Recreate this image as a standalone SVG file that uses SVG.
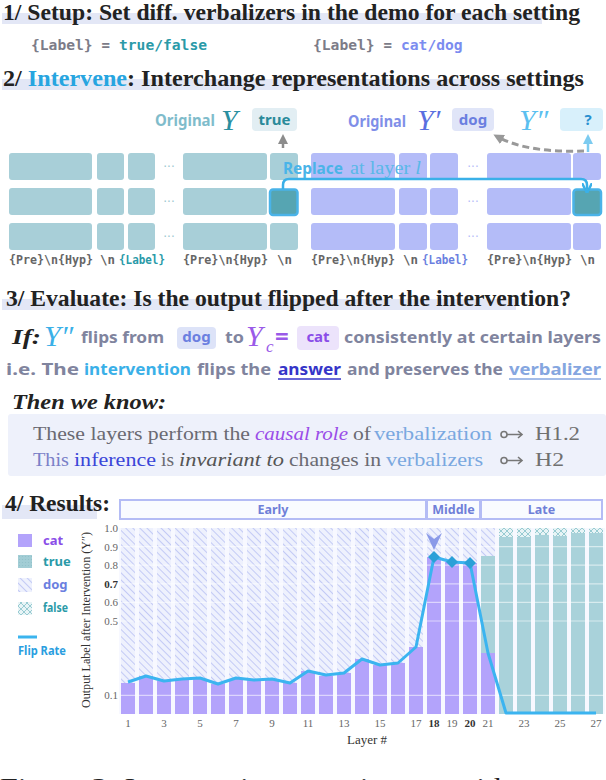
<svg xmlns="http://www.w3.org/2000/svg" width="606" height="780" viewBox="0 0 606 780">
<style>
.hd{font-family:"Liberation Serif",serif;font-weight:bold;font-size:24px;fill:#222}
.bar{fill:#e3e7f6}
.mono{font-family:"DejaVu Sans Mono",monospace;font-weight:bold;font-size:14px}
.lab{font-family:"DejaVu Sans Mono",monospace;font-weight:bold;font-size:11.5px;fill:#666}
.sans{font-family:"Noto Sans","DejaVu Sans",sans-serif;font-weight:bold}
.ser{font-family:"Liberation Serif",serif}
.yi{font-family:"Liberation Serif",serif;font-style:italic;font-size:30px}
.tb{fill:#a8cfd8}
.pb{fill:#b4bcf8}
.hl{fill:#56a5b2;stroke:#4ab3e8;stroke-width:2.5}
.gray{fill:#80849e}
.cz{font-family:"Liberation Serif",serif;font-size:18px;fill:#6a6a72}
.tick{font-family:"Liberation Serif",serif;font-size:11px;fill:#666}
.grid{stroke:#fff;stroke-opacity:0.55;stroke-width:1.2}
.band{fill:#f9fbff;stroke:#b4bcf5;stroke-width:2}
.bandt{font-family:"Noto Sans","DejaVu Sans",sans-serif;font-weight:bold;font-size:12.5px;fill:#6f80d8}
.cat{fill:#b3a3fb}
.tru{fill:#a9d2da}
.leg{font-family:"Noto Sans","DejaVu Sans",sans-serif;font-weight:bold;font-size:13px}
</style>
<defs>
<pattern id="hatch" width="5" height="5" patternUnits="userSpaceOnUse" patternTransform="rotate(-45)">
<rect width="5" height="5" fill="#eef1fd"/>
<line x1="0" y1="0" x2="0" y2="5" stroke="#b8c0f3" stroke-width="1.6"/>
</pattern>
<pattern id="cross" width="6" height="6" patternUnits="userSpaceOnUse">
<rect width="6" height="6" fill="#e8f4f6"/>
<path d="M0,0 L6,6 M6,0 L0,6" stroke="#8ec6ce" stroke-width="0.9"/>
</pattern>
<pattern id="dots" width="3" height="3" patternUnits="userSpaceOnUse">
<rect width="3" height="3" fill="#a2cdd5"/>
<circle cx="1.5" cy="1.5" r="0.6" fill="#8fc0c9"/>
</pattern>
<marker id="ahGray" viewBox="0 0 10 10" refX="5" refY="5" markerWidth="4" markerHeight="4" orient="auto"><path d="M0,0 L10,5 L0,10 Z" fill="#8c8c8c"/></marker>
<marker id="ahLb" viewBox="0 0 10 10" refX="5" refY="5" markerWidth="4" markerHeight="4" orient="auto"><path d="M0,0 L10,5 L0,10 Z" fill="#7ccbf0"/></marker>
<marker id="ahDash" viewBox="0 0 10 10" refX="5" refY="5" markerWidth="3.5" markerHeight="3.5" orient="auto"><path d="M0,0 L10,5 L0,10 Z" fill="#999"/></marker>
<marker id="ahBlue" viewBox="0 0 10 10" refX="6" refY="5" markerWidth="4" markerHeight="4" orient="auto"><path d="M0,0 L10,5 L0,10" fill="none" stroke="#3ab0e8" stroke-width="2.5"/></marker>
</defs>
<rect width="606" height="780" fill="#fff"/>

<!-- Section 1 -->
<g id="header1">
<rect class="bar" x="2" y="13" width="540" height="11"/>
<text class="hd" x="3" y="20" textLength="577" lengthAdjust="spacingAndGlyphs">1/ Setup: Set diff. verbalizers in the demo for each setting</text>
</g>
<g id="setup-labels">
<text class="mono" x="31" y="50" fill="#7c7c88" textLength="61.6" lengthAdjust="spacingAndGlyphs">{Label}</text>
<text class="mono" x="101.4" y="50" fill="#7c7c88">=</text>
<text class="mono" x="119" y="50" fill="#2a9aa8" textLength="88" lengthAdjust="spacingAndGlyphs">true/false</text>
<text class="mono" x="313" y="50" fill="#7c7c88" textLength="61.6" lengthAdjust="spacingAndGlyphs">{Label}</text>
<text class="mono" x="383.4" y="50" fill="#7c7c88">=</text>
<text class="mono" x="401" y="50" fill="#7b8cf0" textLength="61.6" lengthAdjust="spacingAndGlyphs">cat/dog</text>
</g>

<!-- Section 2 -->
<g id="header2">
<rect class="bar" x="2" y="79" width="530" height="11"/>
<text class="hd" x="3" y="86" textLength="581" lengthAdjust="spacingAndGlyphs">2/ <tspan fill="#27a5e0">Intervene</tspan>: Interchange representations across settings</text>
</g>

<g id="left-panel">
<rect class="tb" x="9" y="153" width="83" height="27" rx="3"/>
<rect class="tb" x="97" y="153" width="27" height="27" rx="3"/>
<rect class="tb" x="128" y="153" width="27" height="27" rx="3"/>
<rect class="tb" x="183" y="153" width="84" height="27" rx="3"/>
<rect class="tb" x="270" y="153" width="28" height="27" rx="3"/>
<rect class="tb" x="9" y="188" width="83" height="27" rx="3"/>
<rect class="tb" x="97" y="188" width="27" height="27" rx="3"/>
<rect class="tb" x="128" y="188" width="27" height="27" rx="3"/>
<rect class="tb" x="183" y="188" width="84" height="27" rx="3"/>
<rect class="hl" x="270" y="189.5" width="27.5" height="25.5" rx="3"/>
<rect class="tb" x="9" y="223" width="83" height="27" rx="3"/>
<rect class="tb" x="97" y="223" width="27" height="27" rx="3"/>
<rect class="tb" x="128" y="223" width="27" height="27" rx="3"/>
<rect class="tb" x="183" y="223" width="84" height="27" rx="3"/>
<rect class="tb" x="270" y="223" width="28" height="27" rx="3"/>
<text x="169" y="171" font-family="DejaVu Sans,sans-serif" font-size="12" fill="#9cc8d1" text-anchor="middle">···</text>
<text x="169" y="206" font-family="DejaVu Sans,sans-serif" font-size="12" fill="#9cc8d1" text-anchor="middle">···</text>
<text x="169" y="241" font-family="DejaVu Sans,sans-serif" font-size="12" fill="#9cc8d1" text-anchor="middle">···</text>
<text class="lab" x="9" y="264" textLength="84" lengthAdjust="spacingAndGlyphs">{Pre}\n{Hyp}</text>
<text class="lab" x="100" y="264" textLength="15" lengthAdjust="spacingAndGlyphs">\n</text>
<text class="lab" x="119" y="264" textLength="46" lengthAdjust="spacingAndGlyphs" style="fill:#2a9aa8">{Label}</text>
<text class="lab" x="183" y="264" textLength="85" lengthAdjust="spacingAndGlyphs">{Pre}\n{Hyp}</text>
<text class="lab" x="277" y="264" textLength="15" lengthAdjust="spacingAndGlyphs">\n</text>
<text class="sans" x="155" y="126" font-size="16" fill="#80bccb" textLength="60" lengthAdjust="spacingAndGlyphs">Original</text>
<text class="yi" x="221" y="130" fill="#2a8fa0">Y</text>
<rect x="252" y="108" width="45" height="23" rx="4" fill="#e2eef3"/>
<text class="sans" x="274.5" y="125" font-size="15" fill="#2a8a9a" text-anchor="middle">true</text>
</g>

<g id="right-panel">
<rect class="pb" x="311" y="153" width="84" height="27" rx="3"/>
<rect class="pb" x="399" y="153" width="28" height="27" rx="3"/>
<rect class="pb" x="430" y="153" width="28" height="27" rx="3"/>
<rect class="pb" x="487" y="153" width="84" height="27" rx="3"/>
<rect class="pb" x="573" y="153" width="28" height="27" rx="3"/>
<rect class="pb" x="311" y="188" width="84" height="27" rx="3"/>
<rect class="pb" x="399" y="188" width="28" height="27" rx="3"/>
<rect class="pb" x="430" y="188" width="28" height="27" rx="3"/>
<rect class="pb" x="487" y="188" width="84" height="27" rx="3"/>
<rect class="hl" x="573.5" y="189.5" width="27.5" height="25.5" rx="3"/>
<rect class="pb" x="311" y="223" width="84" height="27" rx="3"/>
<rect class="pb" x="399" y="223" width="28" height="27" rx="3"/>
<rect class="pb" x="430" y="223" width="28" height="27" rx="3"/>
<rect class="pb" x="487" y="223" width="84" height="27" rx="3"/>
<rect class="pb" x="573" y="223" width="28" height="27" rx="3"/>
<text x="473" y="171" font-family="DejaVu Sans,sans-serif" font-size="12" fill="#b4bcf8" text-anchor="middle">···</text>
<text x="473" y="206" font-family="DejaVu Sans,sans-serif" font-size="12" fill="#b4bcf8" text-anchor="middle">···</text>
<text x="473" y="241" font-family="DejaVu Sans,sans-serif" font-size="12" fill="#b4bcf8" text-anchor="middle">···</text>
<text class="lab" x="311" y="264" textLength="84" lengthAdjust="spacingAndGlyphs">{Pre}\n{Hyp}</text>
<text class="lab" x="403" y="264" textLength="15" lengthAdjust="spacingAndGlyphs">\n</text>
<text class="lab" x="422" y="264" textLength="46" lengthAdjust="spacingAndGlyphs" style="fill:#6b7fe0">{Label}</text>
<text class="lab" x="487" y="264" textLength="85" lengthAdjust="spacingAndGlyphs">{Pre}\n{Hyp}</text>
<text class="lab" x="580" y="264" textLength="15" lengthAdjust="spacingAndGlyphs">\n</text>
<text class="sans" x="348" y="127" font-size="16" fill="#7f8fe8" textLength="58" lengthAdjust="spacingAndGlyphs">Original</text>
<text class="yi" x="417" y="130" fill="#5a6fe0">Y′</text>
<rect x="452" y="108" width="42" height="23" rx="4" fill="#e0e5f8"/>
<text class="sans" x="473" y="125" font-size="15" fill="#6b7fe0" text-anchor="middle">dog</text>
<text class="yi" x="519" y="130" fill="#5bbff0">Y″</text>
<rect x="560" y="108" width="43" height="23" rx="4" fill="#d8f0fb"/>
<text class="sans" x="588" y="125" font-size="15" fill="#2a90d0" text-anchor="middle">?</text>
</g>

<g id="connectors">
<line x1="283" y1="148" x2="283" y2="139" stroke="#8c8c8c" stroke-width="2.5" marker-end="url(#ahGray)"/>
<line x1="588" y1="152" x2="588" y2="139" stroke="#7ccbf0" stroke-width="2.5" marker-end="url(#ahLb)"/>
<path d="M584,151 C555,152 522,150 498,137" fill="none" stroke="#999" stroke-width="3" stroke-dasharray="7 4" marker-end="url(#ahDash)"/>
<path d="M283,189 L283,185 Q283,179 289,179 L581,179 Q587,179 587,185 L587,189" fill="none" stroke="#3ab0e8" stroke-width="2.5" marker-end="url(#ahBlue)"/>
</g>
<g id="replace-label">
<text class="sans" x="283" y="174" font-size="16" fill="#4ab4e8" textLength="60" lengthAdjust="spacingAndGlyphs">Replace</text>
<text class="ser" x="350" y="174" font-size="18" fill="#5ab8e8" textLength="71" lengthAdjust="spacingAndGlyphs">at layer <tspan font-style="italic">l</tspan></text>
</g>

<!-- Section 3 -->
<g id="header3">
<rect class="bar" x="2" y="299" width="514" height="11"/>
<text class="hd" x="6" y="306" textLength="565" lengthAdjust="spacingAndGlyphs">3/ Evaluate: Is the output flipped after the intervention?</text>
</g>
<g id="if-line">
<text class="ser" x="12" y="344" font-size="22" font-weight="bold" font-style="italic" fill="#222" textLength="29" lengthAdjust="spacingAndGlyphs">If:</text>
<text class="yi" x="44" y="346" font-size="28" fill="#3ab0e8">Y″</text>
<text class="sans gray" x="81" y="343" font-size="16" textLength="83" lengthAdjust="spacingAndGlyphs">flips from</text>
<rect x="177" y="327" width="39" height="22" rx="4" fill="#dde3f8"/>
<text class="sans" x="196.5" y="342" font-size="15" fill="#6b7fe0" text-anchor="middle">dog</text>
<text class="sans gray" x="225" y="343" font-size="16" textLength="19" lengthAdjust="spacingAndGlyphs">to</text>
<text class="yi" x="246" y="346" font-size="28" fill="#9a5ae8">Y</text>
<text class="ser" x="266" y="352" font-size="17" font-style="italic" fill="#9a5ae8">c</text>
<text class="sans" x="275" y="345" font-size="24" fill="#9a5ae8">=</text>
<rect x="297" y="326" width="42" height="24" rx="4" fill="#ece3fb"/>
<text class="sans" x="318" y="342" font-size="15" fill="#8a4de8" text-anchor="middle">cat</text>
<text class="sans gray" x="344" y="343" font-size="16" textLength="257" lengthAdjust="spacingAndGlyphs">consistently at certain layers</text>
</g>
<g id="ie-line">
<text class="sans gray" x="6" y="375" font-size="16" textLength="73" lengthAdjust="spacingAndGlyphs">i.e. The</text>
<text class="sans" x="84" y="375" font-size="16" fill="#3ab0e8" textLength="107" lengthAdjust="spacingAndGlyphs">intervention</text>
<text class="sans gray" x="197" y="375" font-size="16" textLength="74" lengthAdjust="spacingAndGlyphs">flips the</text>
<text class="sans" x="278" y="375" font-size="16" fill="#3535c8" textLength="63" lengthAdjust="spacingAndGlyphs">answer</text>
<line x1="278" y1="379" x2="341" y2="379" stroke="#3535c8" stroke-width="1.5"/>
<text class="sans gray" x="347" y="375" font-size="16" textLength="156" lengthAdjust="spacingAndGlyphs">and preserves the</text>
<text class="sans" x="509" y="375" font-size="16" fill="#85a6e0" textLength="92" lengthAdjust="spacingAndGlyphs">verbalizer</text>
<line x1="509" y1="379" x2="601" y2="379" stroke="#85a6e0" stroke-width="1.5"/>
</g>
<g id="then-we-know">
<text class="ser" x="12" y="409" font-size="21" font-weight="bold" font-style="italic" fill="#222" textLength="154" lengthAdjust="spacingAndGlyphs">Then we know:</text>
</g>
<g id="conclusions">
<rect x="8" y="414" width="598" height="62" rx="3" fill="#eef1fb"/>
<text class="cz" x="33" y="440" textLength="217" lengthAdjust="spacingAndGlyphs">These layers perform the</text>
<text class="cz" x="255" y="440" font-style="italic" style="fill:#9a4de8" textLength="93" lengthAdjust="spacingAndGlyphs">causal role</text>
<text class="cz" x="353" y="440" textLength="18" lengthAdjust="spacingAndGlyphs">of</text>
<text class="cz" x="374" y="440" style="fill:#7aa8e0" textLength="118" lengthAdjust="spacingAndGlyphs">verbalization</text>
<text class="cz" x="535" y="440" style="fill:#707070" textLength="45" lengthAdjust="spacingAndGlyphs">H1.2</text>
<text class="cz" x="33" y="466" style="fill:#7a80c8" textLength="36" lengthAdjust="spacingAndGlyphs">This</text>
<text class="cz" x="74" y="466" style="fill:#3a45d8" textLength="82" lengthAdjust="spacingAndGlyphs">inference</text>
<text class="cz" x="161" y="466" textLength="13" lengthAdjust="spacingAndGlyphs">is</text>
<text class="cz" x="179" y="466" font-style="italic" style="fill:#555" textLength="105" lengthAdjust="spacingAndGlyphs">invariant to</text>
<text class="cz" x="289" y="466" textLength="92" lengthAdjust="spacingAndGlyphs">changes in</text>
<text class="cz" x="386" y="466" style="fill:#7aa8e0" textLength="97" lengthAdjust="spacingAndGlyphs">verbalizers</text>
<text class="cz" x="535" y="466" style="fill:#707070" textLength="29" lengthAdjust="spacingAndGlyphs">H2</text>
<g fill="none" stroke="#777" stroke-width="1.6">
<circle cx="504" cy="434.5" r="3"/><path d="M507,434.5 H522 M518,431 L522,434.5 L518,438"/>
<circle cx="504" cy="460.5" r="3"/><path d="M507,460.5 H522 M518,457 L522,460.5 L518,464"/>
</g>
</g>

<!-- Section 4 -->
<g id="results-header">
<rect class="bar" x="2" y="505" width="95" height="14"/>
<text class="hd" x="5" y="511" textLength="105" lengthAdjust="spacingAndGlyphs">4/ Results:</text>
</g>
<g id="legend">
<rect x="18" y="534" width="14" height="13" class="cat"/>
<text class="leg" x="43" y="545" fill="#8a4de8">cat</text>
<rect x="18" y="555" width="14" height="13" fill="url(#dots)"/>
<text class="leg" x="43" y="566" fill="#2a9aa8">true</text>
<rect x="18" y="578" width="14" height="14" fill="url(#hatch)"/>
<text class="leg" x="43" y="589" fill="#6b7fe0">dog</text>
<rect x="18" y="602" width="14" height="13" fill="url(#cross)"/>
<text class="leg" x="43" y="612" fill="#2a9aa8" textLength="25" lengthAdjust="spacingAndGlyphs">false</text>
<line x1="18" y1="637" x2="37" y2="637" stroke="#3bb4ee" stroke-width="3"/>
<text class="leg" x="18" y="655" font-size="12" fill="#2a9ee0" textLength="48" lengthAdjust="spacingAndGlyphs">Flip Rate</text>
</g>
<g id="chart">
<rect x="120" y="500" width="306" height="19" class="band"/>
<rect x="427" y="500" width="53" height="19" class="band"/>
<rect x="481" y="500" width="121" height="19" class="band"/>
<text class="bandt" x="273" y="514" text-anchor="middle">Early</text>
<text class="bandt" x="453.5" y="514" text-anchor="middle">Middle</text>
<text class="bandt" x="541.5" y="514" text-anchor="middle">Late</text>
<rect x="119" y="528" width="486" height="186" fill="#f7f8ff"/>
<g fill="url(#hatch)">
<rect x="121" y="528" width="14" height="186"/><rect x="139" y="528" width="14" height="186"/>
<rect x="157" y="528" width="14" height="186"/><rect x="175" y="528" width="14" height="186"/>
<rect x="193" y="528" width="14" height="186"/><rect x="211" y="528" width="14" height="186"/>
<rect x="229" y="528" width="14" height="186"/><rect x="247" y="528" width="14" height="186"/>
<rect x="265" y="528" width="14" height="186"/><rect x="283" y="528" width="14" height="186"/>
<rect x="301" y="528" width="14" height="186"/><rect x="319" y="528" width="14" height="186"/>
<rect x="337" y="528" width="14" height="186"/><rect x="355" y="528" width="14" height="186"/>
<rect x="373" y="528" width="14" height="186"/><rect x="391" y="528" width="14" height="186"/>
<rect x="409" y="528" width="14" height="186"/><rect x="427" y="528" width="14" height="186"/>
<rect x="445" y="528" width="14" height="186"/><rect x="463" y="528" width="14" height="186"/>
<rect x="481" y="528" width="14" height="186"/>
</g>
<g fill="url(#cross)">
<rect x="499" y="528" width="14" height="12"/><rect x="517" y="528" width="14" height="12"/>
<rect x="535" y="528" width="14" height="12"/><rect x="553" y="528" width="14" height="12"/>
<rect x="571" y="528" width="14" height="12"/><rect x="589" y="528" width="14" height="12"/>
</g>
<g class="tru">
<rect x="481" y="556" width="14" height="97"/>
<rect x="499" y="537" width="14" height="177"/><rect x="517" y="537" width="14" height="177"/>
<rect x="535" y="535" width="14" height="179"/><rect x="553" y="536" width="14" height="178"/>
<rect x="571" y="533" width="14" height="181"/><rect x="589" y="533" width="14" height="181"/>
</g>
<g class="cat">
<rect x="121" y="683" width="14" height="31"/><rect x="139" y="676" width="14" height="38"/>
<rect x="157" y="681" width="14" height="33"/><rect x="175" y="680" width="14" height="34"/>
<rect x="193" y="679" width="14" height="35"/><rect x="211" y="684" width="14" height="30"/>
<rect x="229" y="679" width="14" height="35"/><rect x="247" y="680" width="14" height="34"/>
<rect x="265" y="679" width="14" height="35"/><rect x="283" y="683" width="14" height="31"/>
<rect x="301" y="671" width="14" height="43"/><rect x="319" y="676" width="14" height="38"/>
<rect x="337" y="673" width="14" height="41"/><rect x="355" y="659" width="14" height="55"/>
<rect x="373" y="665" width="14" height="49"/><rect x="391" y="663" width="14" height="51"/>
<rect x="409" y="647" width="14" height="67"/><rect x="427" y="557" width="14" height="157"/>
<rect x="445" y="562" width="14" height="152"/><rect x="463" y="563" width="14" height="151"/>
<rect x="481" y="653" width="14" height="61"/>
</g>
<g class="grid">
<line x1="120" y1="546.6" x2="604" y2="546.6"/><line x1="120" y1="565.2" x2="604" y2="565.2"/>
<line x1="120" y1="583.8" x2="604" y2="583.8"/><line x1="120" y1="602.4" x2="604" y2="602.4"/>
<line x1="120" y1="621" x2="604" y2="621"/><line x1="120" y1="695.4" x2="604" y2="695.4"/>
</g>
<polyline fill="none" stroke="#3bb4f0" stroke-width="3" stroke-linejoin="round" points="128,682 146,676 164,681 182,679 200,678 218,684 236,678 254,680 272,679 290,683 308,671 326,675 344,673 362,659 380,665 398,663 416,647 434,557 452,562 470,563 488,653 506,713 524,713 542,713 560,713 578,713 596,713"/>
<g fill="#2aa0d8">
<path d="M434,551 L440,557 L434,563 L428,557 Z"/>
<path d="M452,556 L458,562 L452,568 L446,562 Z"/>
<path d="M470,557 L476,563 L470,569 L464,563 Z"/>
</g>
<path d="M426,533 L434,539 L442,533 L434,550 Z" fill="#8a9ae8"/>
<g class="tick" text-anchor="end">
<text x="118" y="532">1.0</text><text x="118" y="550.6">0.9</text><text x="118" y="569.2">0.8</text>
<text x="118" y="587.8" font-weight="bold" fill="#333">0.7</text><text x="118" y="606.4">0.6</text>
<text x="118" y="625">0.5</text><text x="118" y="699.4">0.1</text>
</g>
<g class="tick" text-anchor="middle">
<text x="128" y="727">1</text><text x="164" y="727">3</text><text x="200" y="727">5</text>
<text x="236" y="727">7</text><text x="272" y="727">9</text><text x="308" y="727">11</text>
<text x="344" y="727">13</text><text x="380" y="727">15</text><text x="416" y="727">17</text>
<text x="434" y="727" font-weight="bold" fill="#333">18</text><text x="452" y="727">19</text>
<text x="470" y="727" font-weight="bold" fill="#333">20</text><text x="488" y="727">21</text>
<text x="524" y="727">23</text><text x="560" y="727">25</text><text x="596" y="727">27</text>
</g>
<text class="ser" x="367" y="744" font-size="13" fill="#333" text-anchor="middle">Layer #</text>
<text class="ser" transform="translate(90,620) rotate(-90)" font-size="12.5" fill="#333" text-anchor="middle" textLength="176" lengthAdjust="spacingAndGlyphs">Output Label after Intervention (Y″)</text>
</g>
<g id="caption">
<text class="ser" x="0" y="794" font-size="24" fill="#222" textLength="510" lengthAdjust="spacingAndGlyphs">Figure 2: Intervention experiments with</text>
</g>
</svg>
